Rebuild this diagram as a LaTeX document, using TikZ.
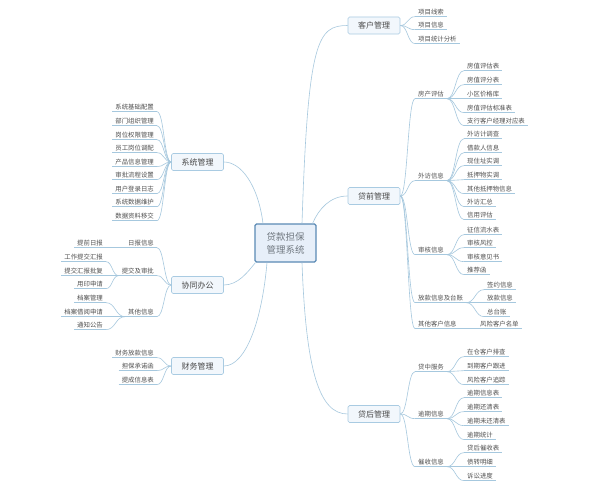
\documentclass[tikz,border=0pt]{standalone}
\usepackage{fontspec}
\newfontfamily\cjk{Noto Sans CJK SC}
\usetikzlibrary{calc}
\definecolor{lineblue}{HTML}{A6C8DE}
\definecolor{boxline}{HTML}{A9CBE2}
\definecolor{boxfill}{HTML}{F2F7FC}
\definecolor{cfill}{HTML}{E7EFF9}
\definecolor{cline}{HTML}{5A8AB5}
\definecolor{txt}{HTML}{505050}
\definecolor{ctxt}{HTML}{707880}
\newcommand\leaffont{\cjk\fontsize{6.4}{7.5}\selectfont}
\newcommand\conn[2]{\draw[conn] let \p1=(#1), \p2=(#2) in (\p1) .. controls ({0.5*\x1+0.5*\x2},\y1) and ({0.5*\x1+0.5*\x2},\y2) .. (\p2);}
\tikzset{
  conn/.style={draw=lineblue, line width=0.6pt},
  leafR/.style={anchor=west, font=\leaffont, text=txt, inner xsep=3pt, inner ysep=1.3pt,
    text height=5.4pt, text depth=0.9pt,
    append after command={(\tikzlastnode.south west) edge[conn] (\tikzlastnode.south east)}},
  leafL/.style={leafR, anchor=east},
  topic/.style={draw=boxline, fill=boxfill, rounded corners=1.5pt, line width=0.7pt,
    minimum width=52pt, minimum height=17pt, inner sep=0pt,
    font=\cjk\fontsize{8}{9}\selectfont, text=txt!90!black},
  central/.style={draw=cline, fill=cfill, rounded corners=1.5pt, line width=1.1pt,
    minimum width=61pt, minimum height=38pt, inner sep=0pt, align=center,
    font=\cjk\fontsize{9.5}{13}\selectfont, text=ctxt}
}
\begin{document}
\begin{tikzpicture}[x=1pt,y=-1pt]
\useasboundingbox[fill=white] (0,0) rectangle (592,495);
% central
\node[central] (c) at (285.5,243) {贷款担保\\管理系统};
% main topics
\node[topic] (kh) at (374,25.5) {客户管理};
\node[topic] (dq) at (374,196) {贷前管理};
\node[topic] (dh) at (374,414) {贷后管理};
\node[topic] (xt) at (197.5,162) {系统管理};
\node[topic] (xb) at (197.5,285) {协同办公};
\node[topic] (cw) at (197.5,366) {财务管理};
% central connectors
\draw[conn] ([xshift=16.5pt]c.north) .. controls +(6,-184) and +(-30,0) .. (kh.west);
\draw[conn] ([xshift=-4pt]c.north east) .. controls +(6,-14) and +(-18,0) .. (dq.west);
\draw[conn] ([xshift=16.5pt]c.south) .. controls +(4,110) and +(-28,0) .. (dh.west);
\draw[conn] ([xshift=-22.5pt]c.north) .. controls +(-5,-39) and +(17,0) .. (xt.east);
\draw[conn] ([xshift=1pt]c.south west) .. controls +(-8,10) and +(14,0) .. (xb.east);
\draw[conn] ([xshift=-18.5pt]c.south) .. controls +(-5,58) and +(22,0) .. (cw.east);
% ---- 客户管理
\node[leafR] (k1) at (415,12) {项目线索};
\node[leafR] (k2) at (415,25) {项目信息};
\node[leafR] (k3) at (415,39) {项目统计分析};
\foreach \k in {k1,k2,k3} {\conn{kh.east}{\k.south west}}
% ---- 贷前管理
\node[leafR] (fc) at (415,94) {房产评估};
\node[leafR] (wf) at (415,176) {外访信息};
\node[leafR] (sh) at (415,250) {审核信息};
\node[leafR] (fk) at (415,298) {放款信息及台账};
\node[leafR] (qt) at (415,324) {其他客户信息};
\foreach \k in {fc,wf,sh,fk,qt} {\conn{dq.east}{\k.south west}}
\node[leafR] (fc1) at (464,66) {房值评估表};
\node[leafR] (fc2) at (464,80) {房值评分表};
\node[leafR] (fc3) at (464,94) {小区价格库};
\node[leafR] (fc4) at (464,108) {房值评估标准表};
\node[leafR] (fc5) at (464,121) {支行客户经理对应表};
\foreach \k in {fc1,fc2,fc3,fc4,fc5} {\conn{fc.south east}{\k.south west}}
\node[leafR] (wf1) at (464,134) {外访计调查};
\node[leafR] (wf2) at (464,148) {借款人信息};
\node[leafR] (wf3) at (464,161) {现住址实调};
\node[leafR] (wf4) at (464,175) {抵押物实调};
\node[leafR] (wf5) at (464,189) {其他抵押物信息};
\node[leafR] (wf6) at (464,202) {外访汇总};
\node[leafR] (wf7) at (464,215) {信用评估};
\foreach \k in {wf1,wf2,wf3,wf4,wf5,wf6,wf7} {\conn{wf.south east}{\k.south west}}
\node[leafR] (sh1) at (464,230) {征信流水表};
\node[leafR] (sh2) at (464,243) {审核风控};
\node[leafR] (sh3) at (464,257) {审核意见书};
\node[leafR] (sh4) at (464,270) {推荐函};
\foreach \k in {sh1,sh2,sh3,sh4} {\conn{sh.south east}{\k.south west}}
\node[leafR] (fk1) at (484,285) {签约信息};
\node[leafR] (fk2) at (484,298) {放款信息};
\node[leafR] (fk3) at (484,312) {总台账};
\foreach \k in {fk1,fk2,fk3} {\conn{fk.south east}{\k.south west}}
\node[leafR] (qt1) at (477,324) {风险客户名单};
\draw[conn] (qt.south east) -- (qt1.south west);
% ---- 贷后管理
\node[leafR] (dz) at (415,367) {贷中服务};
\node[leafR] (yq) at (415,414) {逾期信息};
\node[leafR] (cs) at (415,462) {催收信息};
\foreach \k in {dz,yq,cs} {\conn{dh.east}{\k.south west}}
\node[leafR] (dz1) at (464,352) {在仓客户排查};
\node[leafR] (dz2) at (464,366) {到期客户跟进};
\node[leafR] (dz3) at (464,380) {风险客户追踪};
\foreach \k in {dz1,dz2,dz3} {\conn{dz.south east}{\k.south west}}
\node[leafR] (yq1) at (464,393) {逾期信息表};
\node[leafR] (yq2) at (464,407) {逾期还清表};
\node[leafR] (yq3) at (464,421) {逾期未还清表};
\node[leafR] (yq4) at (464,435) {逾期统计};
\foreach \k in {yq1,yq2,yq3,yq4} {\conn{yq.south east}{\k.south west}}
\node[leafR] (cs1) at (464,448) {贷后催收表};
\node[leafR] (cs2) at (464,462) {债转明细};
\node[leafR] (cs3) at (464,476) {诉讼进度};
\foreach \k in {cs1,cs2,cs3} {\conn{cs.south east}{\k.south west}}
% ---- 系统管理
\node[leafL] (x1) at (157,107) {系统基础配置};
\node[leafL] (x2) at (157,121) {部门组织管理};
\node[leafL] (x3) at (157,135) {岗位权限管理};
\node[leafL] (x4) at (157,148) {员工岗位调配};
\node[leafL] (x5) at (157,162) {产品信息管理};
\node[leafL] (x6) at (157,175) {审批流程设置};
\node[leafL] (x7) at (157,189) {用户登录日志};
\node[leafL] (x8) at (157,202) {系统数据维护};
\node[leafL] (x9) at (157,216) {数据资料移交};
\foreach \k in {x1,x2,x3,x4,x5,x6,x7,x8,x9} {\conn{xt.west}{\k.south east}}
% ---- 协同办公
\node[leafL] (rb) at (157,243) {日报信息};
\node[leafL] (tj) at (157,271) {提交及审批};
\node[leafL] (qx) at (157,312) {其他信息};
\foreach \k in {rb,tj,qx} {\conn{xb.west}{\k.south east}}
\node[leafL] (rb1) at (106,243) {提前日报};
\draw[conn] (rb.south west) -- (rb1.south east);
\node[leafL] (tj1) at (106,257) {工作提交汇报};
\node[leafL] (tj2) at (106,271) {提交汇报批复};
\node[leafL] (tj3) at (106,284) {用印申请};
\foreach \k in {tj1,tj2,tj3} {\conn{tj.south west}{\k.south east}}
\node[leafL] (qx1) at (106,298) {档案管理};
\node[leafL] (qx2) at (106,312) {档案借阅申请};
\node[leafL] (qx3) at (106,325) {通知公告};
\foreach \k in {qx1,qx2,qx3} {\conn{qx.south west}{\k.south east}}
% ---- 财务管理
\node[leafL] (c1) at (157,353) {财务放款信息};
\node[leafL] (c2) at (157,366) {担保承诺函};
\node[leafL] (c3) at (157,380) {提成信息表};
\foreach \k in {c1,c2,c3} {\conn{cw.west}{\k.south east}}
\end{tikzpicture}
\end{document}
